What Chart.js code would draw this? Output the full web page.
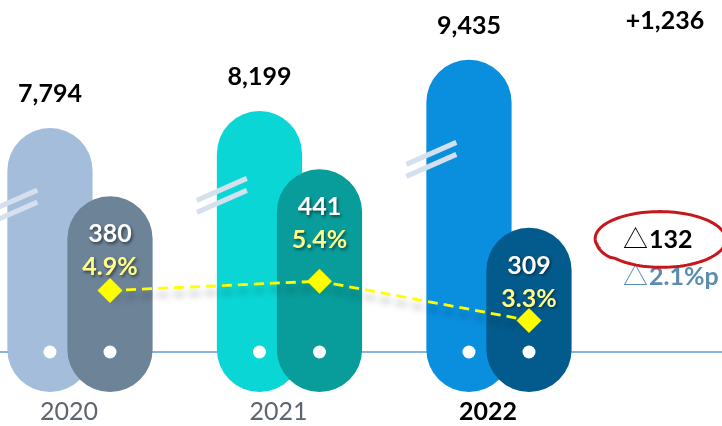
<!DOCTYPE html>
<html><head><meta charset="utf-8">
<script src="https://cdn.jsdelivr.net/npm/chart.js@4.4.1/dist/chart.umd.min.js"></script>
<style>html,body{margin:0;padding:0;background:#fff;}#wrap{width:722px;height:426px;position:relative;}</style>
</head><body><div id="wrap"><canvas id="c"></canvas></div>
<script>
// ---- data ----
const years = ['2020', '2021', '2022'];
const totalValues = [7794, 8199, 9435];
const partValues = [380, 441, 309];
const ratioValues = [4.9, 5.4, 3.3];
const tallColors = ['#A3BDDB', '#0BD6D6', '#0A8FDF'];
const shortColors = ['#6D8397', '#089C9A', '#035B8D'];

// axis ranges (broken axes, as in the reference)
const TALL_MIN = 1441, TALL_MAX = 10872;
const PART_MIN = -62, PART_MAX = 823;
const RATIO_MIN = -0.53, RATIO_MAX = 20.45;
const CAT_PCT = 1.146, BAR_PCT = 1.42;
const SLOT_SHIFT = CAT_PCT / 8;   // offset of the 2nd bar centre from the category, in category units
const FONT = 'Lato, "Noto Sans", "Noto Sans CJK KR", sans-serif';

const fmt = v => v.toLocaleString('en-US');
const round = {topLeft: 200, topRight: 200, bottomLeft: 200, bottomRight: 200};

const drawPlugin = {
  id: 'custom',
  beforeDatasetsDraw(chart) {
    const c = chart.ctx, area = chart.chartArea;
    const full = {left: 0, top: 0, right: chart.width, bottom: chart.height};
    const mT = chart.getDatasetMeta(0), mS = chart.getDatasetMeta(1), mL = chart.getDatasetMeta(2);
    const baseY = area.bottom - 40;
    // baseline
    c.save();
    c.strokeStyle = '#5B9BD5'; c.lineWidth = 1.3;
    c.beginPath(); c.moveTo(0, baseY); c.lineTo(chart.width, baseY); c.stroke();
    c.restore();
    // tall bars
    mT.controller.draw();
    // break marks
    c.save();
    c.strokeStyle = '#D5E0EE'; c.lineWidth = 5;
    mT.data.forEach(bar => {
      const cx = bar.x - bar.width / 2 + 5;
      const cy = bar.y + 0.3 * (bar.base - bar.y);
      [-6, 6].forEach(d => {
        c.beginPath();
        c.moveTo(cx - 25, cy + d + 11);
        c.lineTo(cx + 25, cy + d - 11);
        c.stroke();
      });
    });
    c.restore();
    const dot = x => { c.beginPath(); c.arc(x, baseY, 6.5, 0, Math.PI * 2); c.fill(); };
    c.save(); c.fillStyle = '#fff'; mT.data.forEach(b => dot(b.x)); c.restore();
    // short bars
    mS.controller.draw();
    c.save(); c.fillStyle = '#fff'; mS.data.forEach(b => dot(b.x)); c.restore();
    // ratio line (library elements) with shadow
    c.save();
    c.shadowColor = 'rgba(0,0,0,0.35)'; c.shadowBlur = 7; c.shadowOffsetY = 7;
    mL.dataset.draw(c, full);
    c.restore();
    mL.data.forEach(p => p.draw(c, full));

    // value labels
    c.save();
    c.textAlign = 'center'; c.textBaseline = 'middle';
    c.font = 'bold 25px ' + FONT; c.fillStyle = '#000';
    mT.data.forEach((b, i) => c.fillText(fmt(totalValues[i]), b.x, b.y - 34));
    c.shadowColor = 'rgba(0,0,0,0.5)'; c.shadowBlur = 3; c.shadowOffsetX = 1.5; c.shadowOffsetY = 1.5;
    mS.data.forEach((b, i) => {
      c.fillStyle = '#FFFFFF';
      c.fillText(fmt(partValues[i]), b.x, b.y + 38);
      c.fillStyle = '#FFFF8C';
      c.fillText(ratioValues[i].toFixed(1) + '%', b.x, b.y + 71);
    });
    c.restore();

    // right-side annotations
    const n = years.length - 1;
    const diffTotal = totalValues[n] - totalValues[n - 1];
    const diffPart = partValues[n - 1] - partValues[n];
    const diffRatio = ratioValues[n - 1] - ratioValues[n];
    const ax = area.right + 64;
    c.save();
    c.textBaseline = 'middle';
    c.font = 'bold 25px ' + FONT; c.fillStyle = '#000'; c.textAlign = 'center';
    c.fillText('+' + fmt(diffTotal), area.right + 106, mT.data[n].y - 39);
    c.textAlign = 'left';
    c.font = '25px ' + FONT;
    c.fillText('\u25B3', ax, 240);
    const tw = c.measureText('\u25B3').width;
    c.font = 'bold 25px ' + FONT;
    c.fillText(fmt(diffPart), ax + tw + 1, 240);
    c.fillStyle = '#5B8DB0';
    c.font = '25px ' + FONT;
    c.fillText('\u25B3', ax, 277);
    c.font = 'bold 25px ' + FONT;
    c.fillText(diffRatio.toFixed(1) + '%p', ax + tw + 1, 277);
    // red hand-drawn ellipse
    c.strokeStyle = '#C8161D'; c.lineWidth = 3;
    c.beginPath();
    const ecx = area.right + 103, ecy = 238, rx = 64, ry = 27;
    const t0 = 2.75, span = Math.PI * 2 + 0.35;
    for (let k = 0; k <= 120; k++) {
      const f = k / 120, t = t0 + span * f;
      const s = 1.05 - 0.1 * f;
      const x = ecx + rx * (f > 0.9 ? 1.02 : s) * Math.cos(t);
      const y = ecy + ry * s * Math.sin(t) + f * 4;
      if (k === 0) c.moveTo(x, y); else c.lineTo(x, y);
    }
    c.stroke();
    c.restore();
    return false;
  }
};

new Chart(document.getElementById('c'), {
  type: 'bar',
  data: {
    labels: years,
    datasets: [
      {
        label: 'total', data: totalValues, yAxisID: 'yT', base: TALL_MIN,
        backgroundColor: tallColors, borderRadius: round, borderSkipped: false,
        categoryPercentage: CAT_PCT, barPercentage: BAR_PCT
      },
      {
        label: 'part', data: partValues, yAxisID: 'yS', base: PART_MIN,
        backgroundColor: shortColors, borderRadius: round, borderSkipped: false,
        categoryPercentage: CAT_PCT, barPercentage: BAR_PCT
      },
      {
        type: 'line', label: 'ratio',
        data: ratioValues.map((v, i) => ({x: i, y: v})),
        xAxisID: 'xL', yAxisID: 'yP',
        borderColor: '#FFFF00', borderWidth: 2.8, borderDash: [10, 6], tension: 0,
        pointStyle: 'rectRot', pointRadius: 12.5,
        pointBackgroundColor: '#FFFF00', pointBorderColor: '#FFFF00', pointBorderWidth: 0
      }
    ]
  },
  options: {
    responsive: true, maintainAspectRatio: false, animation: false,
    devicePixelRatio: 1,
    layout: {autoPadding: false, padding: {left: 140, right: 163, top: 0, bottom: -6}},
    plugins: {legend: {display: false}, tooltip: {enabled: false}},
    scales: {
      x: {
        offset: false,
        grid: {display: false, drawTicks: false}, border: {display: false},
        ticks: {
          padding: 5, labelOffset: -71, maxRotation: 0, autoSkip: false,
          font: ctx => ({family: FONT, size: 25, weight: ctx.index === years.length - 1 ? 'bold' : 'normal'}),
          color: ctx => ctx.index === years.length - 1 ? '#000000' : '#5D6670'
        }
      },
      xL: {type: 'linear', display: false, offset: false, min: SLOT_SHIFT, max: years.length - 1 + SLOT_SHIFT},
      yT: {type: 'linear', display: false, min: TALL_MIN, max: TALL_MAX},
      yS: {type: 'linear', display: false, min: PART_MIN, max: PART_MAX},
      yP: {type: 'linear', display: false, min: RATIO_MIN, max: RATIO_MAX}
    }
  },
  plugins: [drawPlugin]
});
</script></body></html>
